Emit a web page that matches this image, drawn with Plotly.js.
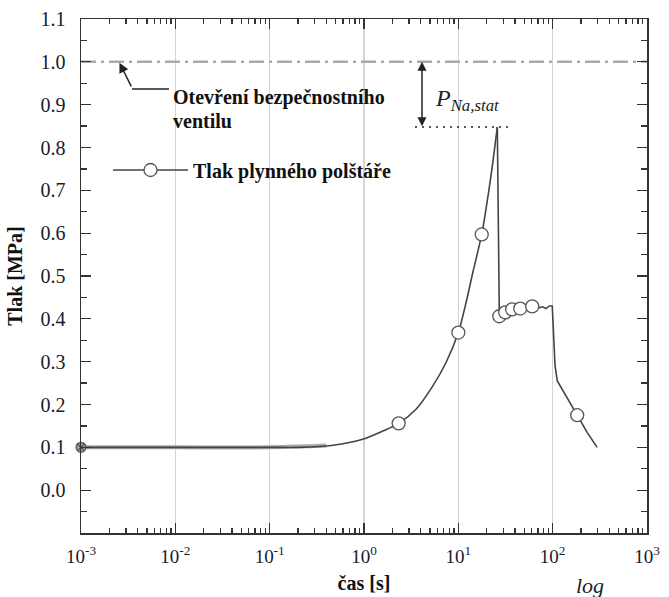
<!DOCTYPE html>
<html>
<head>
<meta charset="utf-8">
<script src="https://cdn.plot.ly/plotly-3.0.1.min.js"></script>
<style>html,body{margin:0;padding:0;background:#fff;}#chart{width:669px;height:597px;}</style>
</head>
<body>
<div id="chart"></div>
<script>
// ---- data ----
var riseTime = [0.001, 0.01, 0.1, 0.207, 0.47, 0.97, 1.58, 2.33, 3.56, 5.35, 7.41, 10, 12.05, 14.2, 17.7, 20, 23, 25.9];
var risePressure = [0.1, 0.1, 0.1, 0.1, 0.105, 0.119, 0.138, 0.156, 0.189, 0.243, 0.298, 0.368, 0.437, 0.507, 0.597, 0.667, 0.759, 0.848];
var afterTime = [25.9, 26.7, 27.2, 31.4, 37.2, 45.3, 60.7, 70, 78, 85, 92, 99, 106, 112, 126, 150, 182, 232, 296];
var afterPressure = [0.848, 0.41, 0.406, 0.415, 0.422, 0.424, 0.429, 0.425, 0.428, 0.424, 0.43, 0.43, 0.29, 0.255, 0.235, 0.205, 0.175, 0.135, 0.1];
var markerTime = [2.33, 10, 17.7, 27.2, 31.4, 37.2, 45.3, 60.7, 182];
var markerPressure = [0.156, 0.368, 0.597, 0.406, 0.415, 0.422, 0.424, 0.429, 0.175];
var startTime = [0.001];
var startPressure = [0.1];
var flatTime = [0.001, 0.01, 0.1, 0.4];
var flatPressure = [0.1, 0.1, 0.1, 0.104];
var valveTime = [0.001, 1000];
var valvePressure = [1.0, 1.0];
var peakPressure = 0.848;
var xTickVals = [0.001, 0.01, 0.1, 1, 10, 100, 1000];
var xTickText = ['10<sup>-3</sup>', '10<sup>-2</sup>', '10<sup>-1</sup>', '10<sup>0</sup>', '10<sup>1</sup>', '10<sup>2</sup>', '10<sup>3</sup>'];
var yTickVals = [0.0, 0.1, 0.2, 0.3, 0.4, 0.5, 0.6, 0.7, 0.8, 0.9, 1.0, 1.1];
var seriesName = 'Tlak plynného polštáře';

// ---- helpers for decoration placement (plot area 81..647 x 19..533 px) ----
function px2x(p){ return (p - 81) / 566; }
function py2y(p){ return (533 - p) / 514; }

var minorX = [];
for (var d = -3; d < 3; d++) { for (var m = 2; m <= 9; m++) { minorX.push(m * Math.pow(10, d)); } }
var minorY = [];
for (var k = -1; k <= 11; k++) { minorY.push(k * 0.1 + 0.05); }

var serif = '"Liberation Serif", "Times New Roman", "DejaVu Serif", serif';
var curveColor = '#444';

var traces = [
  {x: valveTime, y: valvePressure, mode: 'lines', showlegend: false, hoverinfo: 'skip',
   line: {color: '#aaaaaa', width: 2.5, dash: '15px,5px,3px,5px'}},
  {x: flatTime, y: flatPressure, mode: 'lines', showlegend: false, hoverinfo: 'skip',
   line: {color: '#aaaaaa', width: 4, shape: 'spline'}},
  {x: riseTime, y: risePressure, mode: 'lines', showlegend: false,
   line: {color: curveColor, width: 1.6, shape: 'spline', smoothing: 0.8}},
  {x: afterTime, y: afterPressure, mode: 'lines', showlegend: false,
   line: {color: curveColor, width: 1.6}},
  {x: markerTime, y: markerPressure, mode: 'markers', showlegend: false,
   marker: {symbol: 'circle', size: 13, color: '#ffffff', line: {color: '#555', width: 1.3}}},
  {x: startTime, y: startPressure, mode: 'markers', showlegend: false, cliponaxis: false,
   marker: {symbol: 'circle-x', size: 10, color: '#999', line: {color: '#555', width: 1.2}}},
  {x: [null], y: [null], mode: 'lines+markers', name: '<b>' + seriesName + '</b>', showlegend: true,
   line: {color: curveColor, width: 1.6},
   marker: {symbol: 'circle', size: 13, color: '#ffffff', line: {color: '#555', width: 1.3}}}
];

var layout = {
  width: 669, height: 597,
  margin: {l: 81, r: 22, t: 19, b: 64},
  paper_bgcolor: '#fff', plot_bgcolor: '#fff',
  font: {family: serif, color: '#111'},
  showlegend: true,
  legend: {x: px2x(108), y: py2y(170), xanchor: 'left', yanchor: 'middle', bgcolor: 'rgba(0,0,0,0)',
           itemwidth: 75, font: {family: serif, size: 20, color: '#111'}},
  xaxis: {
    type: 'log', range: [-3, 3],
    tickmode: 'array', tickvals: xTickVals, ticktext: xTickText,
    ticks: 'inside', ticklen: 10, tickwidth: 1.3, tickcolor: '#333',
    showline: true, linecolor: '#333', linewidth: 1.5, mirror: 'ticks',
    showgrid: true, gridcolor: '#d4d4d4', gridwidth: 1.5,
    zeroline: false,
    tickfont: {family: serif, size: 19, color: '#1a1a2e'},
    ticklabelstandoff: 6,
    minor: {tickmode: 'array', tickvals: minorX, ticks: 'inside', ticklen: 5, tickwidth: 1.3, tickcolor: '#333', showgrid: false},
    title: {text: '<b>čas [s]</b>', font: {family: serif, size: 20, color: '#111'}, standoff: 9}
  },
  yaxis: {
    range: [-0.1, 1.1],
    tickmode: 'array', tickvals: yTickVals, tickformat: '.1f',
    ticks: 'inside', ticklen: 10, tickwidth: 1.3, tickcolor: '#333',
    showline: true, linecolor: '#333', linewidth: 1.5, mirror: 'ticks',
    showgrid: false, zeroline: false,
    tickfont: {family: serif, size: 20, color: '#1a1a2e'},
    ticklabelstandoff: 10,
    minor: {tickmode: 'array', tickvals: minorY, ticks: 'inside', ticklen: 6, tickwidth: 1.3, tickcolor: '#333', showgrid: false},
    title: {text: '<b>Tlak [MPa]</b>', font: {family: serif, size: 20, color: '#111'}, standoff: 12}
  },
  shapes: [
    {type: 'line', xref: 'paper', yref: 'paper', x0: px2x(132), x1: px2x(169), y0: py2y(89), y1: py2y(89),
     line: {color: '#222', width: 1.5}},
    {type: 'line', xref: 'paper', yref: 'y', x0: px2x(415), x1: px2x(513), y0: peakPressure, y1: peakPressure,
     line: {color: '#222', width: 1.5, dash: '2px,5px'}}
  ],
  annotations: [
    {xref: 'paper', yref: 'y', x: px2x(119), y: 1.0, ax: 13, ay: 26, text: '', showarrow: true,
     arrowhead: 2, arrowsize: 1.3, arrowwidth: 1.5, arrowcolor: '#222', standoff: 1},
    {xref: 'paper', yref: 'paper', x: px2x(171), y: py2y(97), xanchor: 'left', yanchor: 'middle', showarrow: false,
     text: '<b>Otevření bezpečnostního</b>', font: {family: serif, size: 20, color: '#111'}},
    {xref: 'paper', yref: 'paper', x: px2x(171), y: py2y(121), xanchor: 'left', yanchor: 'middle', showarrow: false,
     text: '<b>ventilu</b>', font: {family: serif, size: 20, color: '#111'}},
    {xref: 'paper', yref: 'y', x: px2x(422), y: 1.0, ax: 0, ay: 66, text: '', showarrow: true,
     arrowhead: 2, arrowside: 'end+start', arrowsize: 1.2, arrowwidth: 1.5, arrowcolor: '#222', standoff: 0, startstandoff: 0},
    {xref: 'paper', yref: 'paper', x: px2x(433), y: py2y(100), xanchor: 'left', yanchor: 'middle', showarrow: false,
     text: '<i>P</i><sub><i>Na,stat</i></sub>', font: {family: serif, size: 24, color: '#222'}},
    {xref: 'paper', yref: 'paper', x: px2x(590), y: py2y(571), xanchor: 'center', yanchor: 'top', showarrow: false,
     text: '<i>log</i>', font: {family: serif, size: 22, color: '#222'}}
  ]
};

Plotly.newPlot('chart', traces, layout, {staticPlot: true, displayModeBar: false});
</script>
</body>
</html>
